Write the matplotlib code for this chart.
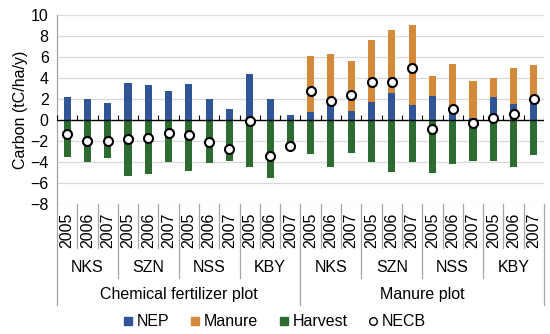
import matplotlib
matplotlib.use("Agg")
import matplotlib.pyplot as plt
import matplotlib.transforms as mtransforms
from matplotlib.lines import Line2D
import numpy as np

plt.rcParams['font.family'] = ['Liberation Sans', 'DejaVu Sans']

years = ["2005", "2006", "2007"]
sites = ["NKS", "SZN", "NSS", "KBY"]
plots = ["Chemical fertilizer plot", "Manure plot"]

nep = [2.2, 2.0, 1.6, 3.5, 3.35, 2.8, 3.4, 2.0, 1.08, 4.35, 2.0, 0.48,
       0.8, 1.43, 0.86, 1.75, 2.54, 1.4, 2.32, 0.86, 0.16, 2.22, 1.52, 1.68]
manure = [0, 0, 0, 0, 0, 0, 0, 0, 0, 0, 0, 0,
          5.3, 4.82, 4.76, 5.87, 6.03, 7.65, 1.87, 4.47, 3.55, 1.81, 3.46, 3.56]
harvest = [-3.5, -4.0, -3.65, -5.33, -5.1, -3.97, -4.9, -4.06, -3.87, -4.44, -5.5, -2.9,
           -3.27, -4.44, -3.17, -3.97, -4.98, -4.03, -5.08, -4.22, -3.9, -3.87, -4.44, -3.33]
necb = [-1.33, -2.0, -2.0, -1.8, -1.68, -1.2, -1.43, -2.06, -2.8, -0.1, -3.43, -2.45,
        2.79, 1.81, 2.38, 3.65, 3.59, 4.98, -0.89, 1.05, -0.25, 0.16, 0.54, 2.0]

c_nep = '#2F5597'
c_man = '#D5893A'
c_har = '#2E6B30'

W, H = 550, 334
fig = plt.figure(figsize=(5.5, 3.34), dpi=100)
left, right, top, bottom = 57, 544, 15, 204
ax = fig.add_axes([left / W, (H - bottom) / H, (right - left) / W, (bottom - top) / H])

n = len(nep)
x = np.arange(n)
bw = 0.35
ax.set_xlim(-0.5, n - 0.5)
ax.set_ylim(-8, 10)

for yv in range(-8, 11, 2):
    if yv != 0:
        ax.axhline(yv, color='#D9D9D9', lw=0.9, zorder=0)

ax.bar(x, nep, bw, color=c_nep, zorder=2)
ax.bar(x, manure, bw, bottom=nep, color=c_man, zorder=2)
ax.bar(x, harvest, bw, color=c_har, zorder=2)
ax.axhline(0, color='black', lw=1.0, zorder=3)
ax.vlines(np.arange(0, n + 1) - 0.5, 0, 0.45, color='black', lw=0.8, zorder=3)
ax.plot(x, necb, 'o', ms=6.5, mfc='white', mec='black', mew=1.5, zorder=4, ls='none')

for s in ['top', 'right', 'bottom']:
    ax.spines[s].set_visible(False)
ax.spines['left'].set_color('#A6A6A6')
ax.spines['left'].set_linewidth(0.9)
ax.set_xticks([])
ax.set_yticks(range(-8, 11, 2))
ax.set_yticklabels([("\u2212" + str(-v)) if v < 0 else str(v) for v in range(-8, 11, 2)])
ax.tick_params(axis='y', length=0, pad=6, labelsize=11.5)
ax.set_ylabel("Carbon (tC/ha/y)", fontsize=11.5, labelpad=2)

# multi-level category axis
tr = mtransforms.blended_transform_factory(ax.transData, fig.transFigure)
def fy(py):
    return (H - py) / H

lc = '#A6A6A6'
for i in range(n):
    ax.text(i, fy(230.5), years[i % 3], rotation=90, ha='center', va='center',
            fontsize=11.5, transform=tr)
for b in range(n + 1):
    xb = b - 0.5
    if b % 12 == 0:
        yb = 305
    elif b % 3 == 0:
        yb = 278
    else:
        yb = 248
    fig.add_artist(Line2D([xb, xb], [fy(204), fy(yb)], transform=tr, color=lc, lw=0.9))
for g in range(8):
    ax.text(g * 3 + 1, fy(267), sites[g % 4], ha='center', va='center', fontsize=11.5, transform=tr)
for p in range(2):
    ax.text(p * 12 + 5.5, fy(295), plots[p], ha='center', va='center', fontsize=11.5, transform=tr)

handles = [
    Line2D([], [], marker='s', ls='none', color=c_nep, ms=6),
    Line2D([], [], marker='s', ls='none', color=c_man, ms=6),
    Line2D([], [], marker='s', ls='none', color=c_har, ms=6),
    Line2D([], [], marker='o', ls='none', mfc='white', mec='black', ms=5.5, mew=1.0),
]
fig.legend(handles, ["NEP", "Manure", "Harvest", "NECB"], loc='center',
           bbox_to_anchor=(0.5, fy(322)), ncol=4, frameon=False, fontsize=11.5,
           handlelength=0.6, handletextpad=0.25, columnspacing=1.3, borderpad=0)

fig.savefig("out.png", dpi=100)
